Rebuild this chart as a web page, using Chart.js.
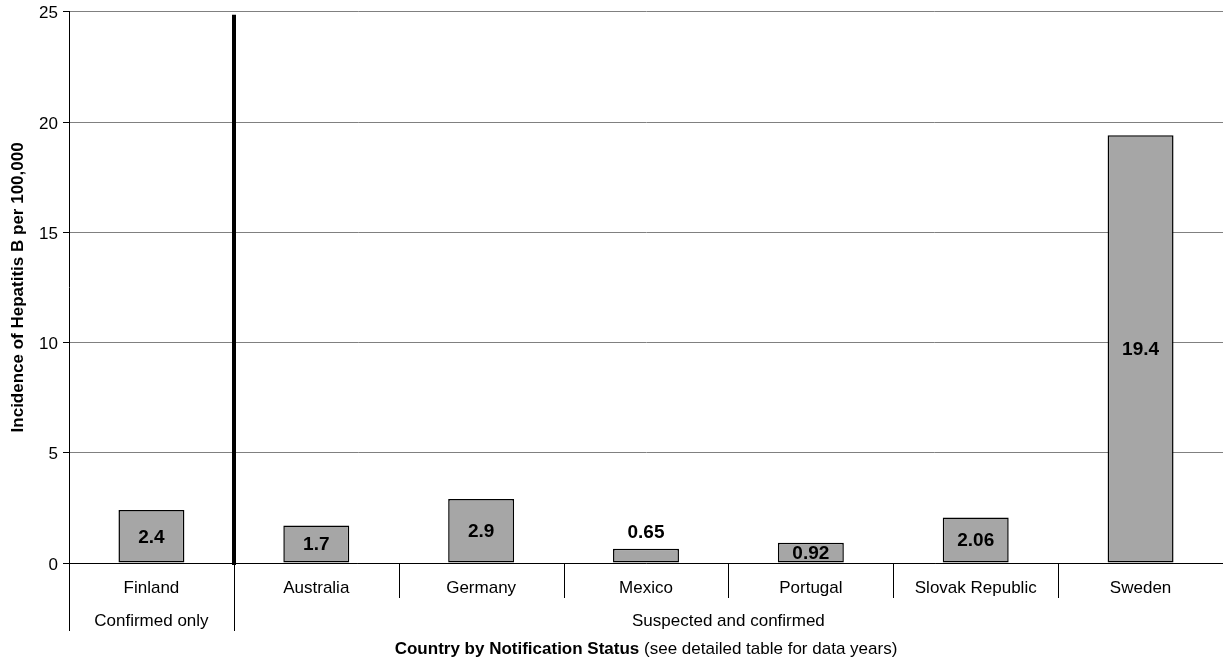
<!DOCTYPE html>
<html>
<head>
<meta charset="utf-8">
<script src="https://cdn.jsdelivr.net/npm/chart.js@4/dist/chart.umd.min.js"></script>
<style>
  html, body { margin: 0; padding: 0; background: #fff; }
  #wrap { width: 1223px; height: 663px; position: relative; }
</style>
</head>
<body>
<div id="wrap"><canvas id="c" width="1223" height="663"></canvas></div>
<script>
// Hepatitis B incidence per 100,000, by country and notification status
const countries = ['Finland', 'Australia', 'Germany', 'Mexico', 'Portugal', 'Slovak Republic', 'Sweden'];
const incidence = [2.4, 1.7, 2.9, 0.65, 0.92, 2.06, 19.4];
const valueLabels = ['2.4', '1.7', '2.9', '0.65', '0.92', '2.06', '19.4'];
const groupNames = ['Confirmed only', 'Suspected and confirmed'];
const groupSizes = [1, 6];
const yTicks = [0, 5, 10, 15, 20, 25];

const FONT = '"Liberation Sans", Arial, sans-serif';

// Draws value labels, category separators, group row and the x-axis caption
const decorations = {
  id: 'decorations',
  afterDatasetsDraw(chart) {
    const ctx = chart.ctx;
    const meta = chart.getDatasetMeta(0);
    ctx.save();
    ctx.font = 'bold 19px ' + FONT;
    ctx.fillStyle = '#000';
    ctx.textAlign = 'center';
    ctx.textBaseline = 'middle';
    meta.data.forEach((bar, i) => {
      const h = bar.base - bar.y;
      let y = (bar.y + bar.base) / 2;
      if (h < 16) y = bar.y - 17;
      ctx.fillText(valueLabels[i], bar.x, y + 1);
    });
    ctx.restore();
  },
  afterDraw(chart) {
    const ctx = chart.ctx;
    const x = chart.scales.x;
    const area = chart.chartArea;
    const bottom = area.bottom;
    const boundary = i => (x.getPixelForValue(i) + x.getPixelForValue(i + 1)) / 2;
    ctx.save();
    ctx.strokeStyle = '#000';
    ctx.lineWidth = 1;

    // boundaries between groups
    const groupEnds = [];
    let acc = 0;
    groupSizes.forEach(n => { acc += n; groupEnds.push(acc - 1); });

    // left edge of category rows
    ctx.beginPath();
    ctx.moveTo(Math.round(area.left) + 0.5, bottom);
    ctx.lineTo(Math.round(area.left) + 0.5, bottom + 68);
    ctx.stroke();

    for (let i = 0; i < countries.length - 1; i++) {
      const bx = Math.round(boundary(i)) + 0.5;
      const isGroupEdge = groupEnds.includes(i);
      ctx.beginPath();
      ctx.moveTo(bx, bottom);
      ctx.lineTo(bx, bottom + (isGroupEdge ? 68 : 35));
      ctx.stroke();
      if (isGroupEdge) {
        // heavy divider through the plot
        ctx.save();
        ctx.lineWidth = 4;
        ctx.beginPath();
        ctx.moveTo(bx - 0.5, area.top + 3);
        ctx.lineTo(bx - 0.5, bottom + 2);
        ctx.stroke();
        ctx.restore();
      }
    }

    // group names
    ctx.font = '17px ' + FONT;
    ctx.fillStyle = '#000';
    ctx.textAlign = 'center';
    ctx.textBaseline = 'middle';
    let start = 0;
    groupSizes.forEach((n, g) => {
      const left = start === 0 ? area.left : boundary(start - 1);
      const right = start + n >= countries.length ? area.right : boundary(start + n - 1);
      ctx.fillText(groupNames[g], (left + right) / 2, bottom + 58);
      start += n;
    });

    // x-axis caption: bold part followed by plain note
    const boldPart = 'Country by Notification Status';
    const plainPart = ' (see detailed table for data years)';
    ctx.font = 'bold 17px ' + FONT;
    const w1 = ctx.measureText(boldPart).width;
    ctx.font = '17px ' + FONT;
    const w2 = ctx.measureText(plainPart).width;
    const cx = (area.left + area.right) / 2;
    let tx = cx - (w1 + w2) / 2;
    ctx.textAlign = 'left';
    ctx.font = 'bold 17px ' + FONT;
    ctx.fillText(boldPart, tx, bottom + 86);
    ctx.font = '17px ' + FONT;
    ctx.fillText(plainPart, tx + w1, bottom + 86);
    ctx.restore();
  }
};

new Chart(document.getElementById('c'), {
  type: 'bar',
  data: {
    labels: countries,
    datasets: [{
      data: incidence,
      backgroundColor: '#a6a6a6',
      borderColor: '#000',
      borderWidth: 1.5,
      borderSkipped: false,
      categoryPercentage: 1,
      barPercentage: 0.4
    }]
  },
  options: {
    responsive: false,
    animation: false,
    devicePixelRatio: 1,
    layout: { padding: { top: 11, right: 0, left: 0, bottom: 0 } },
    plugins: { legend: { display: false }, tooltip: { enabled: false } },
    scales: {
      x: {
        offset: true,
        grid: { display: false, drawTicks: false },
        border: { display: true, color: '#000', width: 1 },
        ticks: { color: '#000', font: { family: FONT, size: 17 }, padding: 15, maxRotation: 0, autoSkip: false },
        afterFit(scale) { scale.height = 100; }
      },
      y: {
        min: 0,
        max: 25,
        afterBuildTicks(scale) { scale.ticks = yTicks.map(v => ({ value: v })); },
        grid: { color: '#808080', tickColor: '#000', tickLength: 6, lineWidth: 1 },
        border: { display: true, color: '#000', width: 1 },
        ticks: { color: '#000', font: { family: FONT, size: 17, lineHeight: 0.8 }, padding: 5, labelOffset: 2 },
        title: {
          display: true,
          text: 'Incidence of Hepatitis B per 100,000',
          color: '#000',
          font: { family: FONT, size: 17, weight: 'bold' },
          padding: { top: 8, bottom: 0 }
        },
        afterFit(scale) { scale.width = 69; }
      }
    }
  },
  plugins: [decorations]
});
</script>
</body>
</html>
